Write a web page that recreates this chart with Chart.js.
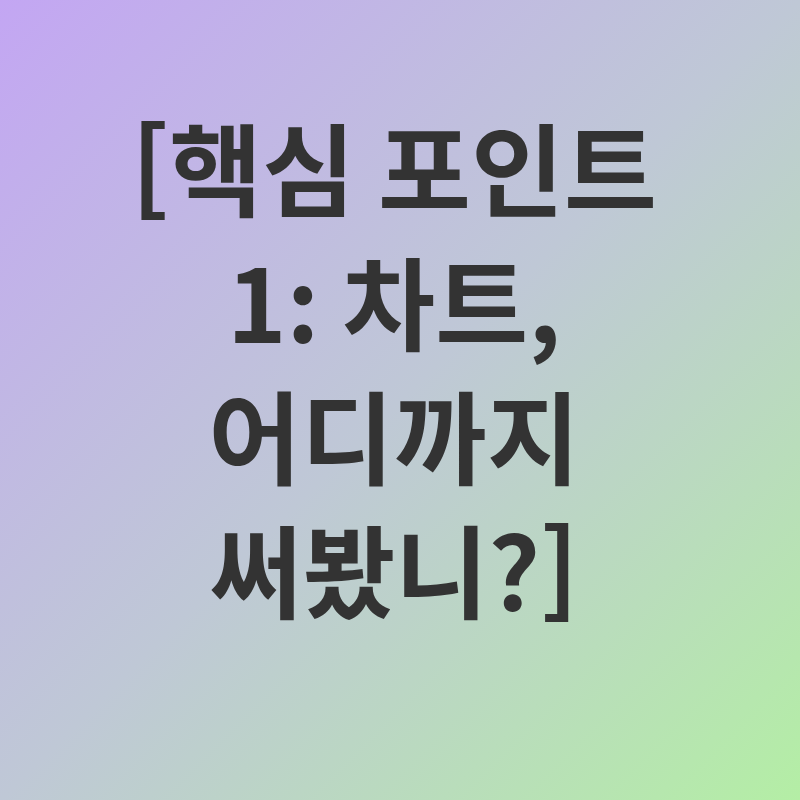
<!DOCTYPE html>
<html lang="ko">
<head>
<meta charset="utf-8">
<script src="https://cdn.jsdelivr.net/npm/chart.js@4"></script>
<style>
    html, body { margin: 0; padding: 0; }
    #wrap { width: 800px; height: 800px; }
</style>
</head>
<body>
<div id="wrap"><canvas id="card"></canvas></div>
<script>
// card text, one entry per line
const titleLines = ["[핵심 포인트", "1: 차트,", "어디까지", "써봤니?]"];
const gradientStops = ["#c3a6f3", "#bfc8d6", "#b4eea5"];

document.addEventListener("DOMContentLoaded", () => {
    renderCard();
});

const gradientBackground = {
    id: "gradientBackground",
    beforeDraw(chart) {
        const { ctx, width, height } = chart;
        const grad = ctx.createLinearGradient(0, 0, width, height);
        gradientStops.forEach((c, i) => grad.addColorStop(i / (gradientStops.length - 1), c));
        ctx.save();
        ctx.fillStyle = grad;
        ctx.fillRect(0, 0, width, height);
        ctx.restore();
    }
};

function renderCard() {
    const ctx = document.getElementById("card")?.getContext("2d");
    if (!ctx) return;

    new Chart(ctx, {
        type: "bar",
        data: { labels: [], datasets: [] },
        options: {
            responsive: true,
            maintainAspectRatio: false,
            animation: false,
            layout: { padding: { left: 0, right: 12, top: 0, bottom: 0 } },
            scales: {
                x: { display: false },
                y: { display: false }
            },
            plugins: {
                legend: { display: false },
                tooltip: { enabled: false },
                title: {
                    display: true,
                    text: titleLines,
                    color: "#333333",
                    padding: { top: 104, bottom: 0 },
                    font: {
                        family: "'Noto Sans CJK KR', 'Noto Sans', sans-serif",
                        size: 101,
                        weight: "bold",
                        lineHeight: 1.327
                    }
                }
            }
        },
        plugins: [gradientBackground]
    });
}
</script>
</body>
</html>
